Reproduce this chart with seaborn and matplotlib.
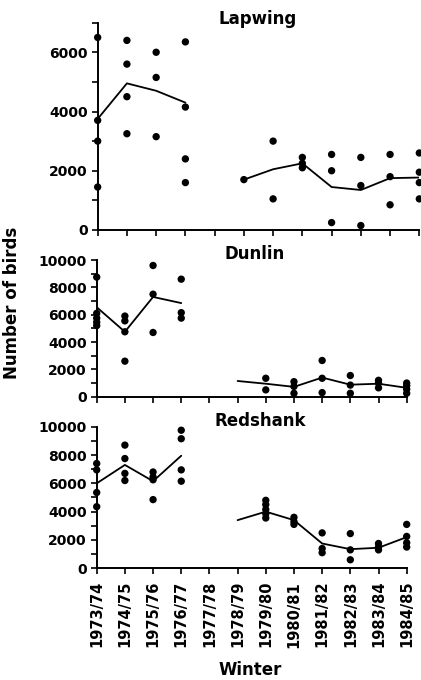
import pandas as pd
import matplotlib.pyplot as plt
import seaborn as sns
from matplotlib.ticker import MultipleLocator

# --- Data (winter counts, individual counts + mean line) ---
winters = ['1973/74', '1974/75', '1975/76', '1976/77', '1977/78', '1978/79',
           '1979/80', '1980/81', '1981/82', '1982/83', '1983/84', '1984/85']

lapwing_pts = [
    [6500, 3700, 3000, 1450],
    [6400, 5600, 4500, 3250],
    [6000, 5150, 3150],
    [6350, 4150, 2400, 1600],
    [],
    [1700],
    [3000, 1050],
    [2450, 2250, 2100],
    [2550, 2000, 250],
    [2450, 1500, 150],
    [2550, 1800, 850],
    [2600, 1950, 1600, 1050],
]
lapwing_line = [3750, 4950, 4700, 4300, None, 1700, 2050, 2250, 1450, 1350, 1750, 1770]

dunlin_pts = [
    [8750, 6100, 5750, 5450, 5200],
    [5900, 5550, 4750, 2600],
    [9600, 7500, 4700],
    [8600, 6150, 5750],
    [],
    [],
    [1350, 500],
    [1100, 750, 250],
    [2650, 1350, 300],
    [1550, 850, 250],
    [1200, 1000, 650],
    [1000, 800, 550, 250],
]
dunlin_line = [6550, 4750, 7300, 6850, None, 1150, 950, 720, 1400, 880, 950, 650]

redshank_pts = [
    [7400, 6950, 5350, 4350],
    [8700, 7750, 6700, 6200],
    [6800, 6450, 6250, 4850],
    [9750, 9150, 6950, 6150],
    [],
    [],
    [4800, 4500, 4150, 3850, 3550],
    [3600, 3300, 3100],
    [2500, 1400, 1100],
    [2450, 1300, 600],
    [1750, 1500, 1300],
    [3100, 2250, 1800, 1500],
]
redshank_line = [6000, 7300, 6150, 7950, None, 3400, 4000, 3400, 1750, 1350, 1450, 2200]


def to_frames(pts, line):
    rows = [(i, v) for i, vals in enumerate(pts) for v in vals]
    df_pts = pd.DataFrame(rows, columns=['winter', 'count'])
    # two survey periods -> two separate line segments
    lrows = [(i, v, 0 if i < 4 else 1) for i, v in enumerate(line) if v is not None]
    df_line = pd.DataFrame(lrows, columns=['winter', 'count', 'period'])
    return df_pts, df_line


sns.set_style('ticks')
plt.rcParams['font.family'] = ['DejaVu Sans']
for key in ['text.color', 'axes.labelcolor', 'xtick.color', 'ytick.color', 'axes.edgecolor']:
    plt.rcParams[key] = 'black'

fig = plt.figure(figsize=(4.21, 6.8), dpi=100)

panels = [
    ('Lapwing', lapwing_pts, lapwing_line, [0.232, 0.6618, 0.764, 0.3049], 7000, (0.613, 0.9716)),
    ('Dunlin', dunlin_pts, dunlin_line, [0.2297, 0.4166, 0.7363, 0.2010], 10000, (0.6057, 0.6265)),
    ('Redshank', redshank_pts, redshank_line, [0.2297, 0.1643, 0.7363, 0.2082], 10000, (0.6176, 0.3813)),
]

for k, (name, pts, line, rect, ymax, tpos) in enumerate(panels):
    ax = fig.add_axes(rect)
    df_pts, df_line = to_frames(pts, line)
    sns.lineplot(data=df_line, x='winter', y='count', units='period', estimator=None,
                 color='black', lw=1.3, ax=ax, legend=False)
    sns.scatterplot(data=df_pts, x='winter', y='count', color='black', s=28,
                    edgecolor='none', ax=ax, clip_on=False, zorder=3, legend=False)
    ax.set_xlim(0, 11)
    ax.set_ylim(0, ymax)
    ax.set_xticks(range(len(winters)))
    if k == 2:
        ax.set_xticklabels(winters, rotation=90, fontsize=10.5, fontweight='bold')
    else:
        ax.set_xticklabels([])
    ax.yaxis.set_major_locator(MultipleLocator(2000))
    ax.yaxis.set_minor_locator(MultipleLocator(1000))
    for lab in ax.get_yticklabels():
        lab.set_fontsize(10)
        lab.set_fontweight('bold')
    ax.tick_params(which='both', direction='out', length=4, width=1.2, color='black', pad=3)
    ax.tick_params(axis='x', pad=5)
    ax.set_xlabel('')
    ax.set_ylabel('')
    sns.despine(ax=ax)
    for sp in ['left', 'bottom']:
        ax.spines[sp].set_linewidth(1.4)
    fig.text(tpos[0], tpos[1], name, ha='center', va='center', fontsize=12, fontweight='semibold')

fig.text(0.028, 0.554, 'Number of birds', rotation=90, ha='center', va='center',
         fontsize=12, fontweight='bold')
fig.text(0.594, 0.0147, 'Winter', ha='center', va='center', fontsize=12, fontweight='semibold')

fig.savefig('out.png', dpi=100)
